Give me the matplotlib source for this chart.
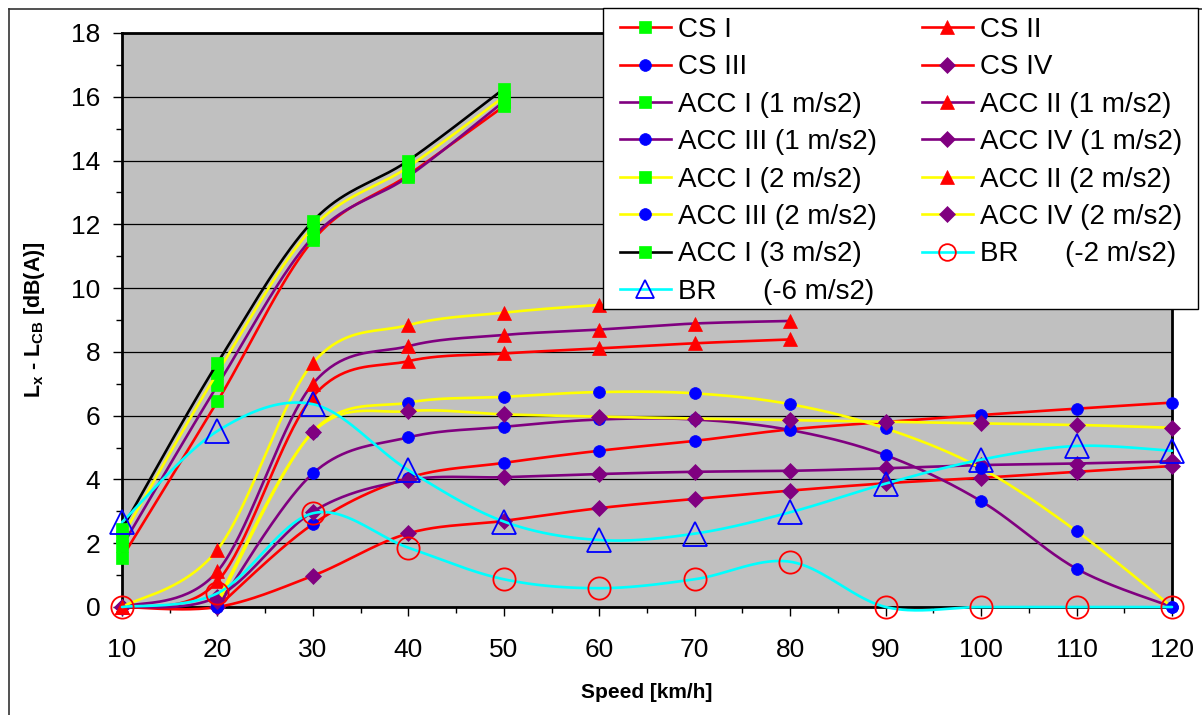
"""Sound level difference Lx - LCB against speed, per driving condition (out.png)."""

import matplotlib

matplotlib.use("Agg")
import matplotlib.pyplot as plt
import numpy as np
from matplotlib.lines import Line2D
from matplotlib.patches import Rectangle
from matplotlib.ticker import MultipleLocator

plt.rcParams["font.family"] = ["Liberation Sans", "DejaVu Sans"]
plt.rcParams["mathtext.fontset"] = "custom"
plt.rcParams["mathtext.rm"] = "Liberation Sans"
plt.rcParams["mathtext.bf"] = "Liberation Sans:bold"

W, H = 1202, 715

SPEED = [10, 20, 30, 40, 50, 60, 70, 80, 90, 100, 110, 120]

# None = no measurement at that speed
cs_1 = [1.55, 6.45, 11.5, 13.55, 15.7]
cs_2 = [0, 0.8, 6.6, 7.71, 7.95, 8.11, 8.27, 8.39]
cs_3 = [None, 0, 2.6, 4.05, 4.52, 4.9, 5.21, 5.57, 5.8, 6.02, 6.22, 6.41]
cs_4 = [0, 0, 0.98, 2.31, 2.7, 3.1, 3.39, 3.65, 3.88, 4.05, 4.24, 4.42]
acc1_1 = [1.9, 6.95, 11.6, 13.5, 15.85]
acc2_1 = [0, 1.12, 7.0, 8.18, 8.53, 8.7, 8.89, 8.97]
acc3_1 = [None, 0, 4.19, 5.32, 5.65, 5.88, 5.88, 5.55, 4.76, 3.32, 1.2, 0]
acc4_1 = [0, 0.32, 2.99, 3.98, 4.07, 4.17, 4.24, 4.27, 4.35, 4.45, 4.5, 4.57]
acc1_2 = [2.2, 7.35, 11.9, 13.8, 16.0]
acc2_2 = [0, 1.8, 7.65, 8.84, 9.23, 9.47, 9.6, 9.7]
acc3_2 = [None, 0.1, 5.5, 6.41, 6.59, 6.74, 6.7, 6.36, 5.6, 4.35, 2.38, 0]
acc4_2 = [None, 0.2, 5.48, 6.14, 6.04, 5.97, 5.91, 5.86, 5.81, 5.76, 5.71, 5.62]
acc1_3 = [2.45, 7.65, 12.1, 14.0, 16.25]
br_2 = [0, 0.43, 2.94, 1.86, 0.87, 0.59, 0.87, 1.42, 0, 0, 0, 0]
br_6 = [2.66, 5.52, 6.36, 4.29, 2.68, 2.1, 2.3, 2.97, 3.87, 4.62, 5.05, 4.9]

RED, PURPLE, YELLOW, CYAN = "#FF0000", "#800080", "#FFFF00", "#00FFFF"
GREEN, BLUE = "#00FF00", "#0000FF"

# label, values, line colour, marker, face, edge, size
SERIES = [
    ("CS I", cs_1, RED, "s", GREEN, GREEN, 8),
    ("CS II", cs_2, RED, "^", RED, RED, 9.5),
    ("CS III", cs_3, RED, "o", BLUE, BLUE, 8.5),
    ("CS IV", cs_4, RED, "D", PURPLE, PURPLE, 8),
    ("ACC I (1 m/s2)", acc1_1, PURPLE, "s", GREEN, GREEN, 8),
    ("ACC II (1 m/s2)", acc2_1, PURPLE, "^", RED, RED, 9.5),
    ("ACC III (1 m/s2)", acc3_1, PURPLE, "o", BLUE, BLUE, 8.5),
    ("ACC IV (1 m/s2)", acc4_1, PURPLE, "D", PURPLE, PURPLE, 8),
    ("ACC I (2 m/s2)", acc1_2, YELLOW, "s", GREEN, GREEN, 8),
    ("ACC II (2 m/s2)", acc2_2, YELLOW, "^", RED, RED, 9.5),
    ("ACC III (2 m/s2)", acc3_2, YELLOW, "o", BLUE, BLUE, 8.5),
    ("ACC IV (2 m/s2)", acc4_2, YELLOW, "D", PURPLE, PURPLE, 8),
    ("ACC I (3 m/s2)", acc1_3, "black", "s", GREEN, GREEN, 8),
    ("BR      (-2 m/s2)", br_2, CYAN, "o", "none", RED, 16),
    ("BR      (-6 m/s2)", br_6, CYAN, "^", "none", BLUE, 17),
]


def smooth(x, y, n=40):
    """Excel-style smoothed line: Catmull-Rom spline through the points."""
    x = np.asarray(x, float)
    y = np.asarray(y, float)
    px = np.concatenate([[x[0]], x, [x[-1]]])
    py = np.concatenate([[y[0]], y, [y[-1]]])
    t = np.linspace(0, 1, n)
    h00 = 2 * t**3 - 3 * t**2 + 1
    h10 = t**3 - 2 * t**2 + t
    h01 = -2 * t**3 + 3 * t**2
    h11 = t**3 - t**2
    xs, ys = [], []
    for i in range(1, len(px) - 2):
        for p, out in ((px, xs), (py, ys)):
            m1 = (p[i + 1] - p[i - 1]) / 2
            m2 = (p[i + 2] - p[i]) / 2
            out.append(h00 * p[i] + h10 * m1 + h01 * p[i + 1] + h11 * m2)
    return np.concatenate(xs), np.concatenate(ys)


fig = plt.figure(figsize=(W / 100, H / 100), dpi=100, facecolor="white")
ax = fig.add_axes([122 / W, 1 - 607 / H, 1050 / W, 574 / H])
ax.set_facecolor("#C0C0C0")

handles = []
for i, (label, vals, lc, mk, mf, me, ms) in enumerate(SERIES):
    pts = [(s, v) for s, v in zip(SPEED, vals) if v is not None]
    x = [p[0] for p in pts]
    y = [p[1] for p in pts]
    z = 3 + i * 0.1
    mew = 1.3 if mf == "none" else 0.5
    sx, sy = smooth(x, y)
    ax.plot(sx, sy, color=lc, lw=1.9, zorder=z, clip_on=False, solid_capstyle="round")
    ax.plot(x, y, ls="none", marker=mk, ms=ms, mfc=mf, mec=me, mew=mew,
            zorder=z + 0.05, clip_on=False)
    handles.append(Line2D([], [], color=lc, lw=1.9, marker=mk,
                          ms=ms * (0.75 if mf == "none" else 1),
                          mfc=mf, mec=me, mew=mew, label=label))

ax.set_xlim(10, 120)
ax.set_ylim(0, 18)
ax.xaxis.set_major_locator(MultipleLocator(10))
ax.xaxis.set_minor_locator(MultipleLocator(5))
ax.yaxis.set_major_locator(MultipleLocator(2))
ax.yaxis.set_minor_locator(MultipleLocator(1))
ax.tick_params(axis="both", which="major", direction="out", length=6.5, width=1.0, labelsize=19)
ax.tick_params(axis="both", which="minor", direction="out", length=4, width=1.0)
ax.tick_params(axis="x", which="major", pad=16)
ax.tick_params(axis="y", which="major", pad=9)
ax.grid(axis="y", which="major", color="black", lw=0.9, zorder=1)
ax.set_axisbelow(True)
for sp in ax.spines.values():
    sp.set_linewidth(2.0)
    sp.set_color("black")

fig.text(647 / W, 1 - 693 / H, "Speed [km/h]", ha="center", va="center",
         fontsize=15, fontweight="bold")
fig.text(35 / W, 1 - 320 / H, r"L$_\mathbf{x}$ - L$_\mathbf{CB}$ [dB(A)]", ha="center",
         va="center", rotation=90, fontsize=15.5, fontweight="bold")

# outer chart border
fig.add_artist(Line2D([9 / W, 9 / W], [0, 1 - 9 / H], color="#333333", lw=1.2))
fig.add_artist(Line2D([9 / W, 1], [1 - 9 / H, 1 - 9 / H], color="#333333", lw=1.2))

# legend box drawn separately so its size matches the original frame
fig.add_artist(Rectangle((603 / W, 1 - 309 / H), 595 / W, 301 / H, transform=fig.transFigure,
                         facecolor="white", edgecolor="black", lw=1.0, zorder=4))

# legend filled row by row: two columns
order = handles[0::2] + handles[1::2]
leg = fig.legend(handles=order, loc="upper left", bbox_to_anchor=(620 / W, 1 - 17 / H),
                 ncol=2, fontsize=20, frameon=False, borderpad=0, labelspacing=0.41,
                 handlelength=1.83, handletextpad=0.25, columnspacing=1.62, borderaxespad=0)
leg.set_zorder(5)

fig.savefig("out.png", dpi=100, facecolor="white")
plt.close(fig)
